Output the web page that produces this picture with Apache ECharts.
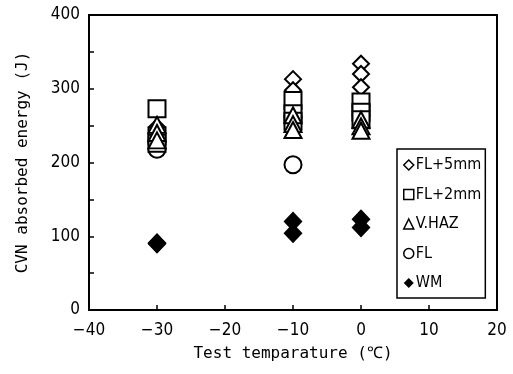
<!DOCTYPE html>
<html><head><meta charset="utf-8">
<script src="https://cdn.jsdelivr.net/npm/echarts@6/dist/echarts.min.js"></script>
<style>html,body{margin:0;padding:0;background:#fff}#c{width:513px;height:374px}</style>
</head><body><div id="c"></div>
<script>
// Test temperatures (°C) and CVN absorbed energy values (J)
const fl5Temps = [-30, -30, -30, -10, -10, -10, -10, 0, 0, 0, 0];
const fl5Vals  = [248, 240, 232, 313, 298, 262, 255, 334, 320, 302, 270];
const fl2Temps = [-30, -30, -30, -10, -10, -10, 0, 0, 0];
const fl2Vals  = [273, 236, 226, 284, 266, 256, 282, 268, 258];
const hazTemps = [-30, -30, -30, -10, -10, -10, 0, 0, 0];
const hazVals  = [251, 240, 230, 264, 252, 244, 258, 249, 243];
const flTemps  = [-30, -30, -10, -10, 0, 0];
const flVals   = [227, 218, 262, 197, 276, 264];
const wmTemps  = [-30, -30, -10, -10, 0, 0];
const wmVals   = [91, 90, 120, 104, 123, 112];
const xTicks = [-40, -30, -20, -10, 0, 10, 20];
const yTicks = [0, 100, 200, 300, 400];

const pairs = (t, v) => t.map((x, i) => [x, v[i]]);
const narrow = '"Liberation Sans Narrow","DejaVu Sans Condensed",sans-serif';
const mono = '"DejaVu Sans Mono","Liberation Mono",monospace';
const open = {color: '#fff', borderColor: '#000', borderWidth: 2, opacity: 1};

const chart = echarts.init(document.getElementById('c'), null, {renderer: 'canvas'});
chart.setOption({
  animation: false,
  backgroundColor: '#fff',
  grid: {left: 89, right: 16, top: 15, bottom: 64, show: true, borderColor: '#000', borderWidth: 2, backgroundColor: 'transparent'},
  xAxis: {
    type: 'value', min: xTicks[0], max: xTicks[xTicks.length - 1], interval: 10,
    axisLine: {show: true, onZero: false, lineStyle: {color: '#000', width: 2}},
    axisTick: {show: true, inside: true, length: 5, lineStyle: {color: '#000', width: 1.5}},
    splitLine: {show: false},
    axisLabel: {color: '#000', fontSize: 17, fontFamily: narrow, margin: 12,
      formatter: v => xTicks.includes(v) ? (v < 0 ? '\u2212' + Math.abs(v) : String(v)) : ''},
    name: 'Test temparature (\u2103)', nameLocation: 'middle', nameGap: 36,
    nameTextStyle: {color: '#000', fontSize: 16, fontFamily: mono}
  },
  yAxis: {
    type: 'value', min: 0, max: 400, interval: 50,
    axisLine: {show: true, onZero: false, lineStyle: {color: '#000', width: 2}},
    axisTick: {show: true, inside: true, length: 5, lineStyle: {color: '#000', width: 1.5}},
    splitLine: {show: false},
    axisLabel: {color: '#000', fontSize: 17, fontFamily: narrow, margin: 9,
      formatter: v => yTicks.includes(v) ? String(v) : ''},
    name: 'CVN absorbed energy (J)', nameLocation: 'middle', nameGap: 58,
    nameTextStyle: {color: '#000', fontSize: 16, fontFamily: mono}
  },
  legend: {
    orient: 'vertical', left: 397, top: 149,
    borderColor: '#000', borderWidth: 1.5, padding: [8, 4, 7, 6],
    itemGap: 13.5, itemWidth: 10, itemHeight: 10,
    textStyle: {color: '#000', fontSize: 16, fontFamily: narrow, padding: [0, 0, 0, -3]},
    data: [
      {name: 'FL+5mm', icon: 'diamond', itemStyle: {color: '#fff', borderColor: '#000', borderWidth: 1.5, opacity: 1}},
      {name: 'FL+2mm', icon: 'rect', itemStyle: {color: '#fff', borderColor: '#000', borderWidth: 1.5, opacity: 1}},
      {name: 'V.HAZ', icon: 'triangle', itemStyle: {color: '#fff', borderColor: '#000', borderWidth: 1.5, opacity: 1}},
      {name: 'FL', icon: 'circle', itemStyle: {color: '#fff', borderColor: '#000', borderWidth: 1.5, opacity: 1}},
      {name: 'WM', icon: 'diamond', itemStyle: {color: '#000', borderColor: '#000', borderWidth: 0, opacity: 1}}
    ]
  },
  series: [
    {name: 'FL', type: 'scatter', symbol: 'circle', symbolSize: 17, itemStyle: open, data: pairs(flTemps, flVals)},
    {name: 'FL+5mm', type: 'scatter', symbol: 'diamond', symbolSize: [16, 16], itemStyle: open, data: pairs(fl5Temps, fl5Vals)},
    {name: 'FL+2mm', type: 'scatter', symbol: 'rect', symbolSize: [17, 17], itemStyle: open, data: pairs(fl2Temps, fl2Vals)},
    {name: 'V.HAZ', type: 'scatter', symbol: 'triangle', symbolSize: [17, 16], itemStyle: open, data: pairs(hazTemps, hazVals)},
    {name: 'WM', type: 'scatter', symbol: 'diamond', symbolSize: [19, 20], itemStyle: {color: '#000', opacity: 1}, data: pairs(wmTemps, wmVals)}
  ]
});
</script></body></html>
